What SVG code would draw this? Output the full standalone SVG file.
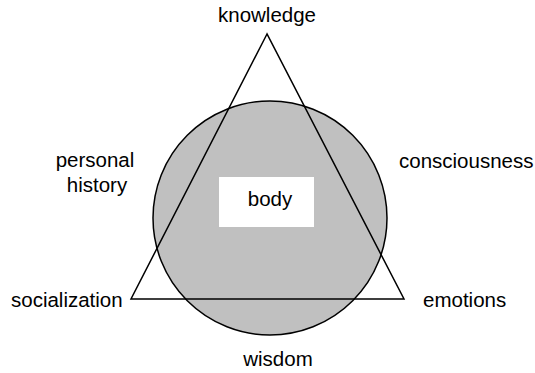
<svg xmlns="http://www.w3.org/2000/svg" width="535" height="373" viewBox="0 0 535 373">
<style>
text{font-family:"Liberation Sans",Arial,sans-serif;font-size:20.5px;fill:#000}
.ln{fill:none;stroke:#000;stroke-width:1.5}
</style>
<rect width="535" height="373" fill="#fff"/>
<g id="body-circle">
<circle cx="270" cy="218" r="117" fill="#c0c0c0" stroke="#000" stroke-width="1.5"/>
</g>
<g id="connectors">
<polygon class="ln" points="267,34 131,299 404,299"/>
</g>
<g id="body">
<rect x="219" y="177" width="95" height="50" fill="#fff"/>
<text x="270" y="206" text-anchor="middle">body</text>
</g>
<g id="knowledge"><text x="267" y="22" text-anchor="middle">knowledge</text></g>
<g id="personal-history">
<text x="95" y="167" text-anchor="middle">personal</text>
<text x="97" y="192" text-anchor="middle">history</text>
</g>
<g id="consciousness"><text x="399" y="168">consciousness</text></g>
<g id="socialization"><text x="11" y="307">socialization</text></g>
<g id="emotions"><text x="423" y="307">emotions</text></g>
<g id="wisdom"><text x="278" y="366" text-anchor="middle">wisdom</text></g>
</svg>
